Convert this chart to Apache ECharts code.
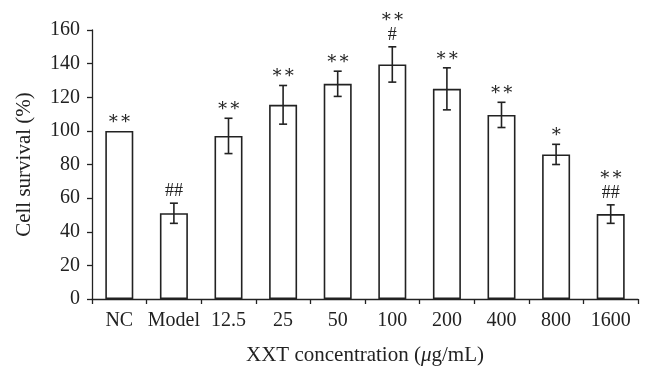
<!DOCTYPE html>
<html>
<head>
<meta charset="utf-8">
<script src="https://cdn.jsdelivr.net/npm/echarts@6/dist/echarts.min.js"></script>
<style>
  html, body { margin: 0; padding: 0; background: #fff; }
  #chart { width: 653px; height: 379px; }
</style>
</head>
<body>
<div id="chart"></div>
<script>
// data
const categories = ['NC', 'Model', '12.5', '25', '50', '100', '200', '400', '800', '1600'];
const survival = [100, 51, 97, 115.5, 128, 139.5, 125, 109.5, 86, 50.5];
const errors = [0, 6, 10.5, 11.5, 7.5, 10.5, 12.5, 7.5, 6, 5.5];
const marks = ['∗∗', '##', '∗∗', '∗∗', '∗∗', '∗∗\n#', '∗∗', '∗∗', '∗', '∗∗\n##'];

const serif = '"Liberation Serif", "DejaVu Serif", serif';
const chart = echarts.init(document.getElementById('chart'));

// error bar + significance marks
const errData = survival.map((v, i) => [i, v, errors[i], marks[i]]);

function renderErr(params, api) {
  const i = api.value(0);
  const v = api.value(1);
  const e = api.value(2);
  const hi = api.coord([i, v + e]);
  const lo = api.coord([i, v - e]);
  const cap = 4;
  const style = { stroke: '#222', lineWidth: 1.6 };
  const children = [];
  if (e > 0) {
    children.push(
      { type: 'line', shape: { x1: hi[0], y1: hi[1], x2: lo[0], y2: lo[1] }, style: style },
      { type: 'line', shape: { x1: hi[0] - cap, y1: hi[1], x2: hi[0] + cap, y2: hi[1] }, style: style },
      { type: 'line', shape: { x1: lo[0] - cap, y1: lo[1], x2: lo[0] + cap, y2: lo[1] }, style: style }
    );
  }
  children.push({
    type: 'text',
    x: hi[0],
    y: hi[1] - 3,
    style: {
      text: errData[params.dataIndex][3],
      font: '18px ' + serif,
      fill: '#222',
      align: 'center',
      verticalAlign: 'bottom',
      lineHeight: 18
    }
  });
  return { type: 'group', children: children };
}

const option = {
  animation: false,
  backgroundColor: '#fff',
  grid: { left: 92, right: 15, top: 30, bottom: 80 },
  xAxis: {
    type: 'category',
    data: categories,
    name: 'XXT concentration ({i|μ}g/mL)',
    nameLocation: 'middle',
    nameGap: 46,
    nameTextStyle: {
      fontFamily: serif, fontSize: 21, color: '#222',
      rich: { i: { fontFamily: serif, fontSize: 21, fontStyle: 'italic', color: '#222' } }
    },
    axisLine: { lineStyle: { color: '#222', width: 1.3 } },
    axisTick: { show: true, length: 5, lineStyle: { color: '#222', width: 1.3 } },
    axisLabel: { interval: 0, fontFamily: serif, fontSize: 20, color: '#222', margin: 12 }
  },
  yAxis: {
    type: 'value',
    min: 0,
    max: 160,
    interval: 20,
    name: 'Cell survival (%)',
    nameLocation: 'middle',
    nameGap: 57,
    nameTextStyle: { fontFamily: serif, fontSize: 21, color: '#222' },
    splitLine: { show: false },
    axisLine: { show: true, lineStyle: { color: '#222', width: 1.3 } },
    axisTick: { show: true, length: 5, lineStyle: { color: '#222', width: 1.3 } },
    axisLabel: { fontFamily: serif, fontSize: 20, color: '#222', margin: 12 }
  },
  series: [
    {
      type: 'bar',
      data: survival,
      barWidth: 28,
      itemStyle: { color: '#fff', borderColor: '#222', borderWidth: 1.6 }
    },
    {
      type: 'custom',
      data: errData,
      renderItem: renderErr,
      z: 5
    }
  ]
};

chart.setOption(option);
</script>
</body>
</html>
